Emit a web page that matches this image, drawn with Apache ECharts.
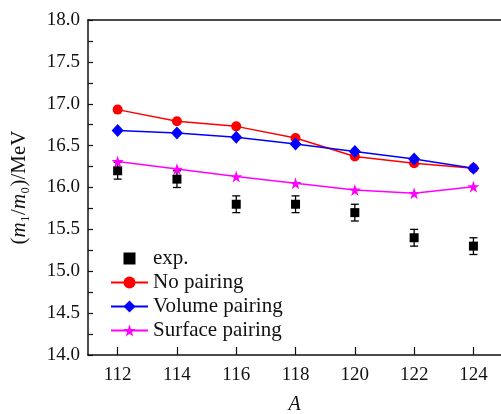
<!DOCTYPE html>
<html>
<head>
<meta charset="utf-8">
<script src="https://cdn.jsdelivr.net/npm/echarts@6/dist/echarts.min.js"></script>
<style>html,body{margin:0;padding:0;background:#fff}#c{width:501px;height:414px}</style>
</head>
<body>
<div id="c"></div>
<script>
// Mass numbers A
const massNumbers = [112, 114, 116, 118, 120, 122, 124];
// Experimental values and their uncertainties (MeV)
const expValues = [16.2, 16.1, 15.8, 15.8, 15.7, 15.4, 15.3];
const expErrors = [0.1, 0.1, 0.1, 0.1, 0.1, 0.1, 0.1];
// Calculations with different pairing prescriptions (MeV)
const noPairing = [16.93, 16.79, 16.73, 16.59, 16.37, 16.29, 16.23];
const volumePairing = [16.68, 16.65, 16.60, 16.52, 16.43, 16.34, 16.23];
const surfacePairing = [16.31, 16.22, 16.13, 16.05, 15.97, 15.93, 16.01];
// Axis ticks
const xTicks = [112, 114, 116, 118, 120, 122, 124];

const font = '"Liberation Serif", "Times New Roman", serif';
const star = 'path://M50,0 L61.2,34.5 L97.6,34.5 L68.2,55.9 L79.4,90.5 L50,69.1 L20.6,90.5 L31.8,55.9 L2.4,34.5 L38.8,34.5 Z';

const pairs = arr => massNumbers.map((a, i) => [a, arr[i]]);

const chart = echarts.init(document.getElementById('c'), null, { renderer: 'canvas' });
chart.setOption({
  backgroundColor: '#fff',
  animation: false,
  textStyle: { fontFamily: font },
  grid: { left: 88, top: 20, bottom: 59, right: 0, outerBoundsMode: 'none', containLabel: false },
  legend: {
    orient: 'vertical',
    left: 105,
    top: 243,
    itemWidth: 37,
    itemHeight: 15,
    itemGap: 3,
    textStyle: { fontFamily: font, fontSize: 21, color: '#111' },
    data: ['exp.', 'No pairing', 'Volume pairing', 'Surface pairing']
  },
  xAxis: [{
    type: 'value',
    min: 111,
    max: 124.93,
    name: 'A',
    nameLocation: 'middle',
    nameGap: 40,
    nameTextStyle: { fontFamily: font, fontSize: 20, fontStyle: 'italic', color: '#111' },
    axisLine: { lineStyle: { color: '#111', width: 1.5 } },
    axisTick: { inside: true, length: 8, lineStyle: { color: '#111', width: 1.2 }, customValues: xTicks },
    axisLabel: { fontFamily: font, fontSize: 19, color: '#111', margin: 11, customValues: xTicks },
    splitLine: { show: false }
  }, {
    type: 'value',
    position: 'top',
    min: 111,
    max: 124.93,
    axisLine: { show: true, lineStyle: { color: '#111', width: 1.5 } },
    axisTick: { show: false },
    axisLabel: { show: false },
    splitLine: { show: false }
  }],
  yAxis: {
    type: 'value',
    min: 14,
    max: 18,
    interval: 0.5,
    name: '{p|(}{i|m}{p|₁/}{i|m}{p|₀)/MeV}',
    nameLocation: 'middle',
    nameRotate: 90,
    nameGap: 58,
    nameTextStyle: {
      color: '#111',
      rich: {
        p: { fontFamily: font, fontSize: 21, color: '#111' },
        i: { fontFamily: font, fontSize: 21, fontStyle: 'italic', color: '#111' }
      }
    },
    axisLine: { show: true, lineStyle: { color: '#111', width: 1.5 } },
    axisTick: { inside: true, length: 5, lineStyle: { color: '#111', width: 1.2 } },
    minorTick: { show: true, splitNumber: 2, length: 5, lineStyle: { color: '#111', width: 1.2 } },
    axisLabel: {
      fontFamily: font, fontSize: 19, color: '#111', margin: 8,
      formatter: v => v.toFixed(1)
    },
    splitLine: { show: false }
  },
  series: [
    {
      // markers only; the line is kept transparent so the legend shows just the square
      name: 'exp.',
      type: 'line',
      symbol: 'rect',
      symbolSize: 9,
      showAllSymbol: true,
      lineStyle: { opacity: 0 },
      itemStyle: { color: '#000' },
      data: pairs(expValues),
      z: 3
    },
    {
      name: 'exp.err',
      type: 'custom',
      data: massNumbers.map((a, i) => [a, expValues[i] - expErrors[i], expValues[i] + expErrors[i]]),
      renderItem: (params, api) => {
        const lo = api.coord([api.value(0), api.value(1)]);
        const hi = api.coord([api.value(0), api.value(2)]);
        const w = 4;
        const style = { stroke: '#000', lineWidth: 1.3 };
        return {
          type: 'group',
          children: [
            { type: 'line', shape: { x1: lo[0], y1: lo[1], x2: hi[0], y2: hi[1] }, style },
            { type: 'line', shape: { x1: lo[0] - w, y1: lo[1], x2: lo[0] + w, y2: lo[1] }, style },
            { type: 'line', shape: { x1: hi[0] - w, y1: hi[1], x2: hi[0] + w, y2: hi[1] }, style }
          ]
        };
      },
      z: 2
    },
    {
      name: 'No pairing',
      type: 'line',
      symbol: 'circle',
      symbolSize: 10,
      showAllSymbol: true,
      lineStyle: { color: '#ff0000', width: 1.5 },
      itemStyle: { color: '#ff0000' },
      data: pairs(noPairing),
      z: 4
    },
    {
      name: 'Volume pairing',
      type: 'line',
      symbol: 'diamond',
      symbolSize: [12, 13],
      showAllSymbol: true,
      lineStyle: { color: '#0000ff', width: 1.5 },
      itemStyle: { color: '#0000ff' },
      data: pairs(volumePairing),
      z: 5
    },
    {
      name: 'Surface pairing',
      type: 'line',
      symbol: star,
      symbolSize: 12,
      showAllSymbol: true,
      lineStyle: { color: '#ff00ff', width: 1.5 },
      itemStyle: { color: '#ff00ff' },
      data: pairs(surfacePairing),
      z: 4
    }
  ]
});
</script>
</body>
</html>
